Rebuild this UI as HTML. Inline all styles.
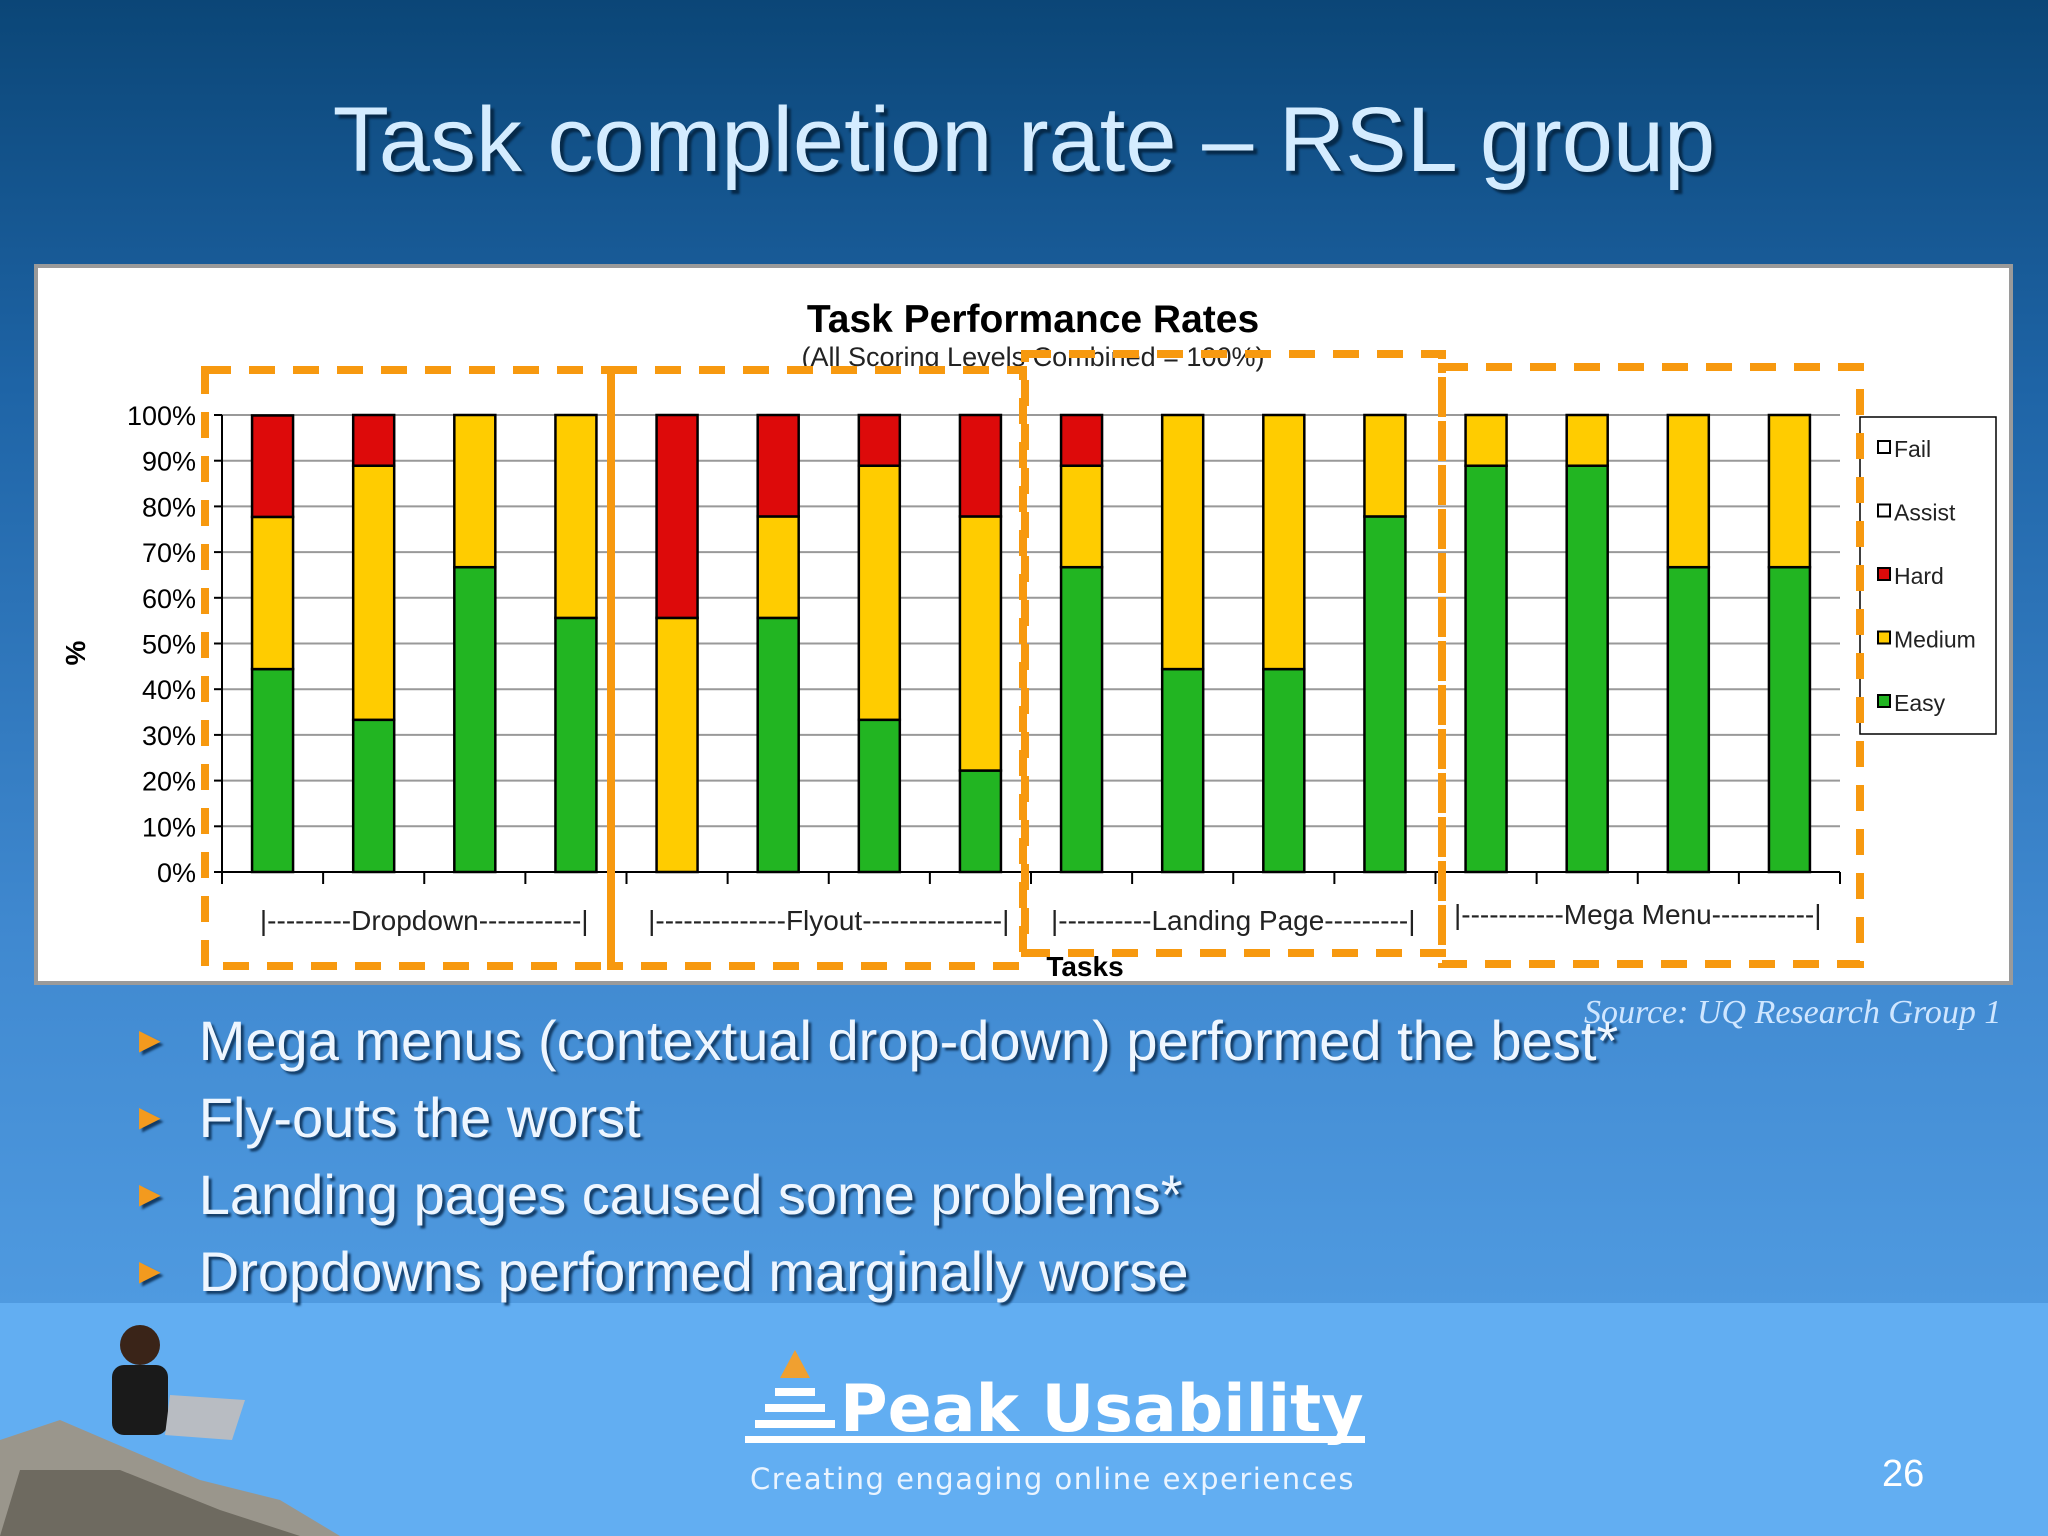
<!DOCTYPE html>
<html><head><meta charset="utf-8"><style>
body{margin:0;width:2048px;height:1536px;overflow:hidden;font-family:"Liberation Sans",sans-serif}
#bg{position:absolute;left:0;top:0;width:2048px;height:1536px;background:linear-gradient(#0b4677 0%,#1e64a6 25%,#3f88cf 60%,#4f9ae0 85%)}
#foot{position:absolute;left:0;top:1303px;width:2048px;height:233px;background:#62aef2}
.t{position:absolute;white-space:nowrap}
</style></head><body>
<div id="bg"></div>
<div id="foot"></div>
<div class="t" style="left:0;width:2048px;text-align:center;top:88px;font-size:92px;color:#d4ecff;text-shadow:4px 4px 2px #062a4a">Task completion rate – RSL group</div>
<svg width="2048" height="1536" style="position:absolute;left:0;top:0" id="chart" font-family="Liberation Sans, sans-serif"></svg>
<div class="t" style="left:1584px;top:994px;font-family:'Liberation Serif',serif;font-style:italic;font-size:34px;color:#cfe6ff">Source: UQ Research Group 1</div>
<div style="position:absolute;left:0;top:0">
<div class="t" style="left:132px;top:1008px;font-size:56px;color:#eef6ff;text-shadow:3px 3px 2px #133c66"><span style="color:#f39a1e;font-size:36px;position:relative;top:-8px">►</span>&nbsp;&nbsp;Mega menus (contextual drop-down) performed the best*</div>
<div class="t" style="left:132px;top:1085px;font-size:56px;color:#eef6ff;text-shadow:3px 3px 2px #133c66"><span style="color:#f39a1e;font-size:36px;position:relative;top:-8px">►</span>&nbsp;&nbsp;Fly-outs the worst</div>
<div class="t" style="left:132px;top:1162px;font-size:56px;color:#eef6ff;text-shadow:3px 3px 2px #133c66"><span style="color:#f39a1e;font-size:36px;position:relative;top:-8px">►</span>&nbsp;&nbsp;Landing pages caused some problems*</div>
<div class="t" style="left:132px;top:1239px;font-size:56px;color:#eef6ff;text-shadow:3px 3px 2px #133c66"><span style="color:#f39a1e;font-size:36px;position:relative;top:-8px">►</span>&nbsp;&nbsp;Dropdowns performed marginally worse</div>
</div>
<svg width="2048" height="1536" style="position:absolute;left:0;top:0">
<polygon points="0,1440 60,1420 130,1450 200,1480 280,1500 340,1536 0,1536" fill="#9a968c"/>
<polygon points="20,1470 120,1470 220,1510 300,1536 0,1536" fill="#6e6a60"/>
<circle cx="140" cy="1345" r="20" fill="#3a2418"/>
<rect x="112" y="1365" width="56" height="70" rx="12" fill="#1a1a1a"/>
<polygon points="170,1395 245,1400 232,1440 165,1435" fill="#b8bcc2"/>
<polygon points="795,1350 810,1378 780,1378" fill="#f0a030"/>
<rect x="775" y="1388" width="40" height="8" fill="#fff"/>
<rect x="765" y="1404" width="60" height="8" fill="#fff"/>
<rect x="755" y="1420" width="80" height="8" fill="#fff"/>
<rect x="745" y="1436" width="620" height="7" fill="#fff"/>
<text x="840" y="1431" font-family="DejaVu Sans, sans-serif" font-weight="bold" font-size="65" fill="#fff">Peak Usability</text>
<text x="750" y="1489" font-family="DejaVu Sans, sans-serif" font-size="29" fill="#eaf4ff" letter-spacing="1.5">Creating engaging online experiences</text>
<text x="1882" y="1486" font-family="Liberation Sans, sans-serif" font-size="38" fill="#fff">26</text>
</svg>
<script>
const groups = ["|---------Dropdown-----------|","|--------------Flyout---------------|","|----------Landing Page---------|","|-----------Mega Menu-----------|"];
const easy   = [44.4,33.3,66.7,55.6, 0,55.6,33.3,22.2, 66.7,44.4,44.4,77.8, 88.9,88.9,66.7,66.7];
const medium = [33.3,55.6,33.3,44.4, 55.6,22.2,55.6,55.6, 22.2,55.6,55.6,22.2, 11.1,11.1,33.3,33.3];
const hard   = [22.2,11.1,0,0, 44.4,22.2,11.1,22.2, 11.1,0,0,0, 0,0,0,0];
const yTicks = [0,10,20,30,40,50,60,70,80,90,100];
const legendNames = ["Fail","Assist","Hard","Medium","Easy"];
const legendColors = ["#ffffff","#ffffff","#dd0a0a","#ffcc00","#22b522"];

const svg = document.getElementById('chart');
const NS = 'http://www.w3.org/2000/svg';
function mk(tag, attrs, txt){const e=document.createElementNS(NS,tag);for(const k in attrs)e.setAttribute(k,attrs[k]);if(txt!=null)e.textContent=txt;svg.appendChild(e);return e;}
const X0=222, X1=1840, Y0=872, Y1=415;
const n = easy.length, cw=(X1-X0)/n, bw=41;
const y = v => Y0 - (v/100)*(Y0-Y1);
const xc = i => X0 + cw*(i+0.5);

let e = mk('rect',{x:36,y:266,width:1975,height:717,fill:'#fff',stroke:'#9a9a9a','stroke-width':4});
 
e = mk('text',{x:1033,y:332,'text-anchor':'middle','font-size':39,'font-weight':'bold',fill:'#000'},'Task Performance Rates');
 
e = mk('text',{x:1033,y:366,'text-anchor':'middle','font-size':27,fill:'#222'},'(All Scoring Levels Combined = 100%)');
 

yTicks.forEach(t=>{
  const g = mk('line',{x1:X0,x2:X1,y1:y(t),y2:y(t),stroke:'#999','stroke-width':2});
   
  const tk = mk('line',{x1:X0-8,x2:X0,y1:y(t),y2:y(t),stroke:'#000','stroke-width':2});
   
  const l = mk('text',{x:X0-26,y:y(t)+10,'text-anchor':'end','font-size':27,fill:'#000'},t+'%');
   
});
e = mk('line',{x1:X0,x2:X0,y1:Y1,y2:Y0,stroke:'#000','stroke-width':2});
 
e = mk('line',{x1:X0,x2:X1,y1:Y0,y2:Y0,stroke:'#000','stroke-width':2});
 
for(let i=0;i<=n;i++){
  const tk = mk('line',{x1:X0+cw*i,x2:X0+cw*i,y1:Y0,y2:Y0+12,stroke:'#000','stroke-width':2});
   
}
e = mk('text',{x:0,y:0,'text-anchor':'middle','font-size':28,'font-weight':'bold',fill:'#000',transform:'translate(85,653) rotate(-90)'},'%');
 

for(let i=0;i<n;i++){
  let base=0;
  [[easy[i],'#22b522','bar-easy'],[medium[i],'#ffcc00','bar-medium'],[hard[i],'#dd0a0a','bar-hard']].forEach(([v,c,nm])=>{
    if(v<=0) return;
    const r = mk('rect',{x:xc(i)-bw/2,y:y(base+v),width:bw,height:y(base)-y(base+v),fill:c,stroke:'#000','stroke-width':2.5});
     
    base+=v;
  });
}
groups.forEach((g,k)=>{
  const t = mk('text',{x:X0+cw*(4*k+2),y:k==3?924:930,'text-anchor':'middle','font-size':28,fill:'#222'},g);
   
});
e = mk('text',{x:1085,y:976,'text-anchor':'middle','font-size':28,'font-weight':'bold',fill:'#000'},'Tasks');
 

e = mk('rect',{x:1860,y:417,width:136,height:317,fill:'#fff',stroke:'#000','stroke-width':1.5});
 
legendNames.forEach((nm,k)=>{
  const ly = 449 + k*63.5;
  const s = mk('rect',{x:1878,y:ly-8,width:12,height:12,fill:legendColors[k],stroke:'#000','stroke-width':2});
   
  const t = mk('text',{x:1894,y:ly+8,'font-size':23,fill:'#222'},nm);
   
});

const boxes = [[205,370,406,596],[611,370,412,596],[1025,354,417,599],[1442,367,418,597]];
boxes.forEach(b=>{
  const r = mk('rect',{x:b[0],y:b[1],width:b[2],height:b[3],fill:'none',stroke:'#f7990f','stroke-width':8,'stroke-dasharray':'26 18'});
   
});
</script>
</body></html>
